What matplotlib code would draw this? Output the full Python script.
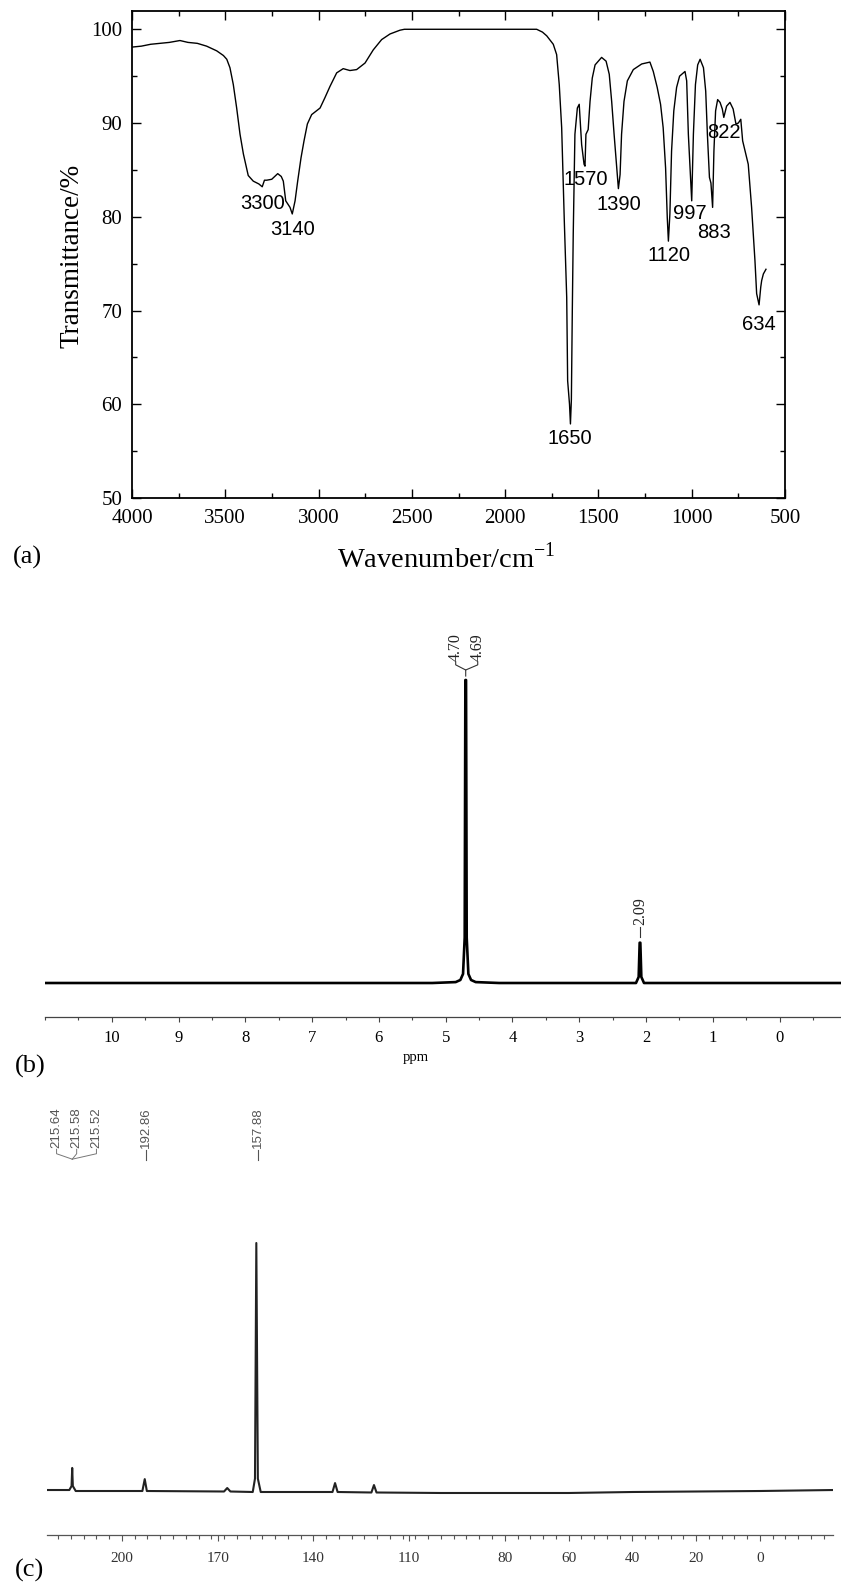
import matplotlib
matplotlib.use('Agg')
import matplotlib.pyplot as plt
from matplotlib.ticker import MultipleLocator, FixedLocator

W, H, DPI = 841, 1583, 100

# ---------------- data ----------------
# (a) FT-IR spectrum
ir_wn = [4000, 3950, 3900, 3850, 3800, 3743, 3700, 3650, 3600, 3546, 3510, 3492, 3475,
         3457, 3439, 3421, 3403, 3377, 3350, 3320, 3302, 3290, 3278, 3251, 3219, 3200,
         3189, 3176, 3153, 3141, 3126, 3112, 3094, 3078, 3060, 3037, 2992, 2966, 2939,
         2903, 2868, 2832, 2796, 2751, 2707, 2662, 2617, 2564, 2540, 1831, 1800, 1777,
         1742, 1724, 1710, 1697, 1683, 1670, 1665, 1655, 1650, 1645, 1640, 1635, 1626,
         1613, 1603, 1590, 1577, 1572, 1567, 1555, 1545, 1533, 1518, 1483, 1459, 1442,
         1429, 1416, 1405, 1393, 1384, 1376, 1363, 1345, 1313, 1268, 1224, 1206, 1185,
         1167, 1153, 1140, 1131, 1125, 1117, 1108, 1096, 1081, 1065, 1036, 1027, 1018,
         1009, 1000, 991, 980, 968, 955, 937, 925, 916, 905, 897, 888, 881, 872, 861,
         848, 836, 828, 813, 795, 778, 763, 750, 737, 727, 697, 679, 661, 652, 639, 630,
         625, 616, 602]
ir_T = [98.1, 98.2, 98.4, 98.5, 98.6, 98.8, 98.6, 98.5, 98.2, 97.7, 97.2, 96.8, 95.9,
        94.1, 91.6, 88.8, 86.7, 84.4, 83.8, 83.5, 83.2, 83.9, 83.9, 84.0, 84.6, 84.3,
        83.8, 81.7, 81.0, 80.3, 81.7, 83.8, 86.3, 88.1, 89.9, 90.9, 91.6, 92.7, 93.9,
        95.35, 95.8, 95.6, 95.7, 96.4, 97.8, 98.9, 99.5, 99.9, 100.0, 100.0, 99.7, 99.3,
        98.4, 97.3, 94.1, 89.5, 79.6, 71.4, 62.5, 60.0, 57.9, 60.5, 70.0, 78.2, 88.8,
        91.6, 92.0, 87.7, 85.6, 85.4, 88.8, 89.3, 92.3, 94.8, 96.2, 97.0, 96.6, 95.2,
        92.3, 88.8, 86.0, 83.0, 84.5, 88.8, 92.3, 94.5, 95.7, 96.3, 96.5, 95.5, 93.8,
        92.0, 89.5, 85.2, 79.9, 77.4, 80.3, 87.0, 91.3, 93.8, 95.0, 95.5, 94.5, 88.8,
        85.2, 81.7, 88.8, 94.1, 96.2, 96.8, 95.9, 93.4, 88.8, 84.2, 83.6, 81.0, 87.0,
        91.3, 92.5, 92.2, 91.5, 90.6, 91.8, 92.2, 91.5, 89.9, 90.0, 90.4, 88.1, 85.6,
        81.0, 75.3, 71.8, 70.6, 72.5, 73.2, 73.9, 74.4]
ir_labels = ['3300', '3140', '1650', '1570', '1390', '1120', '997', '883', '822', '634']
ir_label_x = [3298, 3142, 1651, 1569, 1390, 1120, 1012, 878, 825, 639]
ir_label_y = [81.4, 78.6, 56.4, 84.0, 81.35, 75.9, 80.35, 78.35, 89.0, 68.5]
ir_xticks = [4000, 3500, 3000, 2500, 2000, 1500, 1000, 500]
ir_yticks = [50, 60, 70, 80, 90, 100]

# (b) 1H NMR spectrum (ppm, relative intensity)
h_ppm = [11.0, 5.2, 4.85, 4.78, 4.74, 4.715, 4.705, 4.695, 4.685, 4.66, 4.62, 4.55, 4.2,
         2.15, 2.11, 2.095, 2.085, 2.07, 2.03, -0.92]
h_int = [0.0, 0.0, 0.003, 0.01, 0.03, 0.15, 1.0, 1.0, 0.15, 0.03, 0.01, 0.003, 0.0,
         0.0, 0.02, 0.133, 0.133, 0.02, 0.0, 0.0]
h_xticks = [10, 9, 8, 7, 6, 5, 4, 3, 2, 1, 0]
h_peak_labels = ['4.70', '4.69', '2.09']

# (c) 13C NMR spectrum
c_ppm = [223.5, 216.5, 215.8, 215.6, 215.4, 214.5, 200, 193.6, 192.86, 192.2, 168, 167,
         166, 159, 158.3, 157.88, 157.4, 156.5, 134, 133.2, 132.4, 121.8, 121.0, 120.2,
         100, 80, 60, 40, 20, 0, -23]
c_int = [0.004, 0.004, 0.02, 0.093, 0.02, 0.0, 0.0, 0.0, 0.048, 0.0, -0.002, 0.012,
         -0.002, -0.004, 0.05, 1.0, 0.05, -0.004, -0.004, 0.032, -0.004, -0.006, 0.024,
         -0.006, -0.008, -0.008, -0.008, -0.004, -0.002, 0.0, 0.004]
c_xticks = [200, 170, 140, 110, 80, 60, 40, 20, 0]
c_peak_labels = ['215.64', '215.58', '215.52', '192.86', '157.88']

# ---------------- figure ----------------
serif = ['Liberation Serif', 'DejaVu Serif']
sans = ['Liberation Sans', 'DejaVu Sans']

fig = plt.figure(figsize=(W / DPI, H / DPI), dpi=DPI)


def rect(l, t, r, b):
    return [l / W, 1 - b / H, (r - l) / W, (b - t) / H]


# ---- (a) ----
ax = fig.add_axes(rect(132, 11, 785, 498))
ax.plot(ir_wn, ir_T, color='black', lw=1.0)
ax.set_xlim(4000, 500)
ax.set_ylim(50, 101.95)
ax.xaxis.set_major_locator(FixedLocator(ir_xticks))
ax.yaxis.set_major_locator(FixedLocator(ir_yticks))
ax.xaxis.set_minor_locator(MultipleLocator(250))
ax.yaxis.set_minor_locator(MultipleLocator(5))
ax.tick_params(which='both', direction='in', top=True, right=True, width=1.0)
ax.tick_params(which='major', length=6.5, labelsize=15)
ax.tick_params(which='minor', length=3.5)
ax.tick_params(axis='x', pad=8)
ax.tick_params(axis='y', pad=7)
for lbl in ax.get_xticklabels() + ax.get_yticklabels():
    lbl.set_fontfamily(serif)
for s in ax.spines.values():
    s.set_linewidth(1.3)
for t, x, y in zip(ir_labels, ir_label_x, ir_label_y):
    ax.text(x, y, t, ha='center', va='center', fontsize=14.5, family=sans)
fig.text(72 / W, 1 - 256 / H, 'Transmittance/%', rotation=90, ha='center', va='center',
         fontsize=19.5, family=serif)
fig.text(446 / W, 1 - 558 / H, 'Wavenumber/cm$^{\\mathregular{-1}}$', ha='center',
         va='center', fontsize=20.5, family=serif)
fig.text(27 / W, 1 - 557 / H, '(a)', ha='center', va='center', fontsize=19, family=serif)

# ---- (b) ----
axb = fig.add_axes(rect(45, 600, 841, 1017))
axb.plot(h_ppm, h_int, color='black', lw=1.9)
axb.set_xlim(11.0, -0.92)
axb.set_ylim(-0.1122, 1.264)
for k in ['left', 'right', 'top']:
    axb.spines[k].set_visible(False)
axb.spines['bottom'].set_color('#444444')
axb.spines['bottom'].set_linewidth(0.9)
axb.set_yticks([])
axb.xaxis.set_major_locator(FixedLocator(h_xticks))
axb.xaxis.set_minor_locator(MultipleLocator(0.5))
axb.tick_params(axis='x', which='both', direction='out', color='#444444', width=0.8)
axb.tick_params(axis='x', which='major', length=3.6, labelsize=12, pad=6)
axb.tick_params(axis='x', which='minor', length=2)
for lbl in axb.get_xticklabels():
    lbl.set_fontfamily(serif)
# peak labels
lab_kw = dict(rotation=90, ha='center', va='bottom', fontsize=11.5, family=serif,
              color='#222222')
axb.text(4.85, 1.062, h_peak_labels[0], **lab_kw)
axb.text(4.52, 1.062, h_peak_labels[1], **lab_kw)
axb.plot([4.85, 4.85, 4.70, 4.70], [1.06, 1.05, 1.033, 1.013], color='#333333', lw=0.8)
axb.plot([4.52, 4.52, 4.70], [1.06, 1.05, 1.033], color='#333333', lw=0.8)
axb.text(2.09, 0.191, h_peak_labels[2], **lab_kw)
axb.plot([2.09, 2.09], [0.152, 0.185], color='#333333', lw=0.8)
fig.text(416 / W, 1 - 1057 / H, 'ppm', ha='center', va='center', fontsize=10.5,
         family=serif)
fig.text(30 / W, 1 - 1066 / H, '(b)', ha='center', va='center', fontsize=19, family=serif)

# ---- (c) ----
axc = fig.add_axes(rect(47, 1090, 833, 1535))
axc.plot(c_ppm, c_int, color='#222222', lw=1.5)
axc.set_xlim(223.5, -22.9)
axc.set_ylim(-0.1774, 1.617)
for k in ['left', 'right', 'top']:
    axc.spines[k].set_visible(False)
axc.spines['bottom'].set_color('#555555')
axc.spines['bottom'].set_linewidth(0.9)
axc.set_yticks([])
axc.xaxis.set_major_locator(FixedLocator(c_xticks))
axc.xaxis.set_minor_locator(MultipleLocator(4))
axc.tick_params(axis='x', which='both', direction='out', color='#555555', width=0.8)
axc.tick_params(axis='x', which='major', length=4, labelsize=11, pad=8,
                labelcolor='#333333')
axc.tick_params(axis='x', which='minor', length=3)
for lbl in axc.get_xticklabels():
    lbl.set_fontfamily(serif)
clab_kw = dict(rotation=90, ha='center', va='bottom', fontsize=9.5, family=sans,
               color='#555555')
c_lab_x = [220.5, 214.2, 208.0]
for t, x in zip(c_peak_labels[:3], c_lab_x):
    axc.text(x, 1.385, t, **clab_kw)
    axc.plot([x, x, 215.58], [1.378, 1.36, 1.338], color='#777777', lw=0.7)
axc.text(192.6, 1.385, c_peak_labels[3], **clab_kw)
axc.plot([192.6, 192.6], [1.335, 1.375], color='#555555', lw=0.8)
axc.text(157.3, 1.385, c_peak_labels[4], **clab_kw)
axc.plot([157.3, 157.3], [1.335, 1.375], color='#555555', lw=0.8)
fig.text(30 / W, 1 - 1570 / H, '(c)', ha='center', va='center', fontsize=19, family=serif)

fig.savefig('out.png', dpi=DPI)
